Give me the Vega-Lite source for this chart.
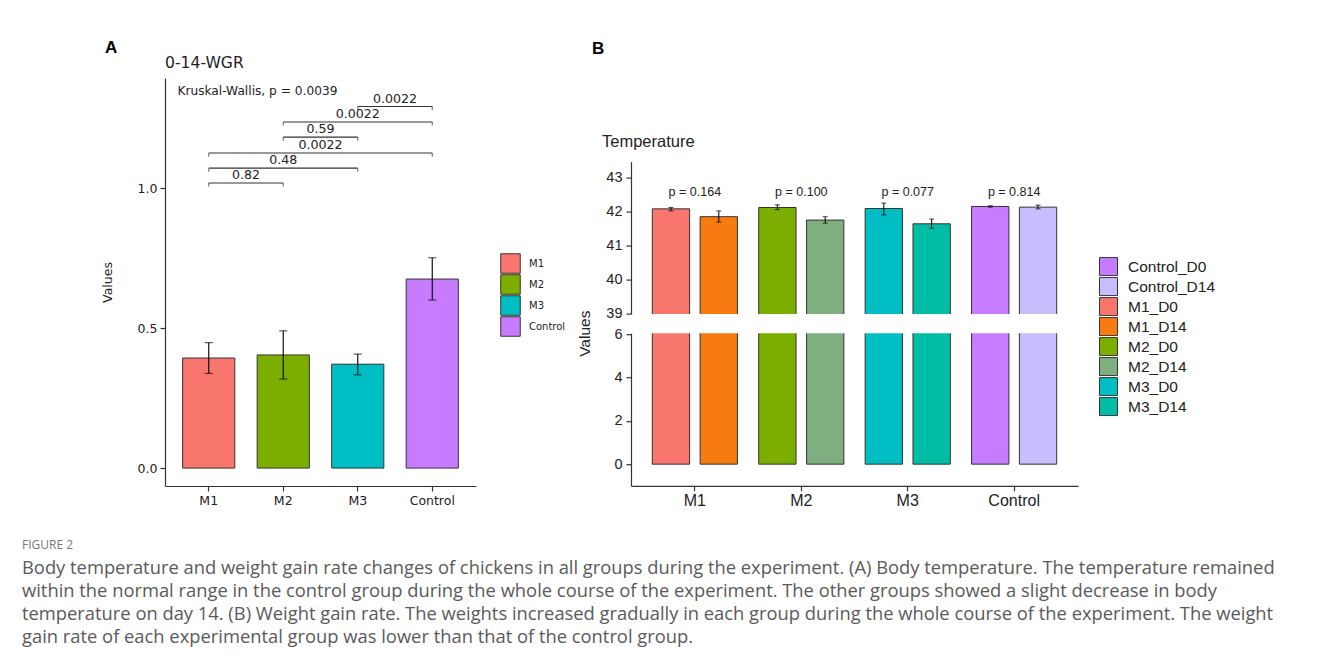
{
  "$schema": "https://vega.github.io/schema/vega-lite/v6.json",
  "background": "white",
  "padding": {"left": 22, "top": 39, "right": 5, "bottom": 5},
  "autosize": {"type": "pad"},
  "config": {
    "view": {"stroke": null},
    "axis": {"domainColor": "#333", "tickColor": "#333", "grid": false, "labelColor": "#222", "titleColor": "#222", "titleFontWeight": "normal", "domainWidth": 1.2, "tickWidth": 1.2, "tickSize": 5, "labelOverlap": false}
  },
  "datasets": {
    "wgr": [
      {"g": "M1", "v": 0.393, "lo": 0.338, "hi": 0.448},
      {"g": "M2", "v": 0.404, "lo": 0.318, "hi": 0.490},
      {"g": "M3", "v": 0.371, "lo": 0.333, "hi": 0.407},
      {"g": "Control", "v": 0.675, "lo": 0.600, "hi": 0.751}
    ],
    "brackets": [
      {"x1": "M1", "x2": "M2", "yb": 1.018, "label": "0.82", "mid": 0.5},
      {"x1": "M1", "x2": "M3", "yb": 1.071, "label": "0.48", "mid": 1.0},
      {"x1": "M1", "x2": "Control", "yb": 1.125, "label": "0.0022", "mid": 1.5},
      {"x1": "M2", "x2": "M3", "yb": 1.182, "label": "0.59", "mid": 1.5},
      {"x1": "M2", "x2": "Control", "yb": 1.236, "label": "0.0022", "mid": 2.0},
      {"x1": "M3", "x2": "Control", "yb": 1.291, "label": "0.0022", "mid": 2.5}
    ],
    "kw": [{"t": "Kruskal-Wallis, p = 0.0039"}],
    "spacer": [{"t": ""}],
    "temp": [
      {"group": "M1", "day": "D0", "series": "M1_D0", "v": 42.09, "lo": 42.03, "hi": 42.13},
      {"group": "M1", "day": "D14", "series": "M1_D14", "v": 41.86, "lo": 41.70, "hi": 42.03},
      {"group": "M2", "day": "D0", "series": "M2_D0", "v": 42.13, "lo": 42.07, "hi": 42.21},
      {"group": "M2", "day": "D14", "series": "M2_D14", "v": 41.76, "lo": 41.67, "hi": 41.86},
      {"group": "M3", "day": "D0", "series": "M3_D0", "v": 42.10, "lo": 41.91, "hi": 42.26},
      {"group": "M3", "day": "D14", "series": "M3_D14", "v": 41.65, "lo": 41.52, "hi": 41.79},
      {"group": "Control", "day": "D0", "series": "Control_D0", "v": 42.16, "lo": 42.14, "hi": 42.18},
      {"group": "Control", "day": "D14", "series": "Control_D14", "v": 42.14, "lo": 42.09, "hi": 42.20}
    ],
    "pv": [
      {"group": "M1", "p": "p = 0.164"},
      {"group": "M2", "p": "p = 0.100"},
      {"group": "M3", "p": "p = 0.077"},
      {"group": "Control", "p": "p = 0.814"}
    ]
  },
  "title": {
    "text": "FIGURE 2",
    "subtitle": [
      "Body temperature and weight gain rate changes of chickens in all groups during the experiment. (A) Body temperature. The temperature remained",
      "within the normal range in the control group during the whole course of the experiment. The other groups showed a slight decrease in body",
      "temperature on day 14. (B) Weight gain rate. The weights increased gradually in each group during the whole course of the experiment. The weight",
      "gain rate of each experimental group was lower than that of the control group."
    ],
    "orient": "bottom",
    "anchor": "start",
    "frame": "bounds",
    "font": "Open Sans",
    "fontSize": 12,
    "fontWeight": "normal",
    "color": "#777777",
    "subtitleFont": "Open Sans",
    "subtitleFontSize": 18.35,
    "subtitleColor": "#5a5a5a",
    "subtitleLineHeight": 23,
    "subtitlePadding": 8,
    "dx": -79,
    "offset": 31
  },
  "spacing": 11,
  "resolve": {"scale": {"color": "independent", "x": "independent", "y": "independent"}, "legend": {"color": "independent"}},
  "hconcat": [
    {
      "title": {"text": "A", "anchor": "start", "frame": "bounds", "font": "Liberation Sans", "fontSize": 17, "fontWeight": "bold", "color": "#000000", "offset": -1.2, "dx": 4},
      "vconcat": [
        {
          "width": 311,
          "height": 408,
          "title": {"text": "0-14-WGR", "anchor": "start", "frame": "group", "font": "DejaVu Sans", "fontSize": 15.6, "fontWeight": "normal", "color": "#222222", "offset": 6.5},
          "resolve": {"scale": {"x": "independent"}},
          "layer": [
            {
              "layer": [
                {
                  "data": {"name": "wgr"},
                  "mark": {"type": "bar", "stroke": "#333333", "strokeWidth": 1},
                  "encoding": {
                    "x": {"field": "g", "type": "nominal", "title": null,
                      "scale": {"domain": ["M1", "M2", "M3", "Control"], "paddingInner": 0.3, "paddingOuter": 0.237},
                      "axis": {"title": null, "labelAngle": 0, "labelFont": "DejaVu Sans", "labelFontSize": 12.5, "labelPadding": 3}},
                    "y": {"field": "v", "type": "quantitative",
                      "scale": {"domain": [-0.064, 1.393], "nice": false, "zero": false},
                      "axis": {"title": "Values", "values": [0, 0.5, 1], "format": ".1f", "labelOverlap": false, "labelFont": "DejaVu Sans", "labelFontSize": 12.5, "labelPadding": 3, "titleFont": "DejaVu Sans", "titleFontSize": 12.5, "titleX": -51, "titleY": 204}},
                    "y2": {"datum": 0},
                    "color": {"field": "g", "type": "nominal",
                      "scale": {"domain": ["M1", "M2", "M3", "Control"], "range": ["#F8766D", "#7CAE00", "#00BFC4", "#C77CFF"]},
                      "legend": {"title": null, "orient": "none", "legendX": 335, "legendY": 175, "padding": 0, "symbolType": "square", "symbolSize": 380, "symbolStrokeColor": "#333333", "symbolStrokeWidth": 1, "symbolOpacity": 1, "labelFont": "DejaVu Sans", "labelFontSize": 10, "labelColor": "#222222", "labelOffset": 8, "rowPadding": 0, "clipHeight": 21}}
                  }
                },
                {
                  "data": {"name": "wgr"},
                  "mark": {"type": "rule", "color": "#111111", "strokeWidth": 1.2},
                  "encoding": {
                    "x": {"field": "g", "type": "nominal", "title": null},
                    "y": {"field": "lo", "type": "quantitative"},
                    "y2": {"field": "hi"}
                  }
                },
                {
                  "data": {"name": "wgr"},
                  "mark": {"type": "tick", "orient": "horizontal", "color": "#111111", "size": 8, "thickness": 1.2},
                  "encoding": {
                    "x": {"field": "g", "type": "nominal", "title": null},
                    "y": {"field": "lo", "type": "quantitative"}
                  }
                },
                {
                  "data": {"name": "wgr"},
                  "mark": {"type": "tick", "orient": "horizontal", "color": "#111111", "size": 8, "thickness": 1.2},
                  "encoding": {
                    "x": {"field": "g", "type": "nominal", "title": null},
                    "y": {"field": "hi", "type": "quantitative"}
                  }
                },
                {
                  "data": {"name": "brackets"},
                  "mark": {"type": "rule", "color": "#333333", "strokeWidth": 1.1},
                  "encoding": {
                    "x": {"field": "x1", "type": "nominal", "title": null, "bandPosition": 0.5},
                    "x2": {"field": "x2", "bandPosition": 0.5},
                    "y": {"field": "yb", "type": "quantitative"}
                  }
                },
                {
                  "data": {"name": "brackets"},
                  "mark": {"type": "tick", "orient": "vertical", "color": "#333333", "size": 3.6, "thickness": 1.1, "yOffset": 1.8},
                  "encoding": {
                    "x": {"field": "x1", "type": "nominal", "title": null},
                    "y": {"field": "yb", "type": "quantitative"}
                  }
                },
                {
                  "data": {"name": "brackets"},
                  "mark": {"type": "tick", "orient": "vertical", "color": "#333333", "size": 3.6, "thickness": 1.1, "yOffset": 1.8},
                  "encoding": {
                    "x": {"field": "x2", "type": "nominal", "title": null},
                    "y": {"field": "yb", "type": "quantitative"}
                  }
                }
              ]
            },
            {
              "layer": [
                {
                  "data": {"name": "brackets"},
                  "mark": {"type": "text", "font": "DejaVu Sans", "fontSize": 12.6, "color": "#222222", "baseline": "bottom", "dy": -1},
                  "encoding": {
                    "x": {"field": "mid", "type": "quantitative", "scale": {"domain": [-0.587, 3.587], "nice": false, "zero": false}, "axis": null},
                    "y": {"field": "yb", "type": "quantitative"},
                    "text": {"field": "label"}
                  }
                },
                {
                  "data": {"name": "kw"},
                  "mark": {"type": "text", "font": "DejaVu Sans", "fontSize": 12.2, "color": "#222222", "align": "left", "baseline": "middle"},
                  "encoding": {
                    "x": {"datum": -0.42, "type": "quantitative"},
                    "y": {"datum": 1.345, "type": "quantitative"},
                    "text": {"field": "t"}
                  }
                }
              ]
            }
          ]
        }
      ]
    },
    {
      "title": {"text": "B", "anchor": "start", "frame": "bounds", "font": "Liberation Sans", "fontSize": 17, "fontWeight": "bold", "color": "#000000", "offset": 20.3, "dx": 15},
      "bounds": "flush",
      "spacing": 18.6,
      "resolve": {"scale": {"y": "independent", "color": "independent"}, "legend": {"color": "independent"}},
      "vconcat": [
        {
          "width": 447,
          "height": 64.8,
          "data": {"name": "spacer"},
          "mark": {"type": "text"},
          "encoding": {"text": {"field": "t"}}
        },
        {
          "width": 447,
          "height": 152.3,
          "title": {"text": "Temperature", "anchor": "start", "frame": "group", "font": "Liberation Sans", "fontSize": 16.5, "fontWeight": "normal", "color": "#222222", "dx": -29, "offset": 11},
          "layer": [
            {
              "data": {"name": "temp"},
              "mark": {"type": "bar", "stroke": "#333333", "strokeWidth": 1, "clip": true},
              "encoding": {
                "x": {"field": "group", "type": "nominal", "title": null,
                  "scale": {"domain": ["M1", "M2", "M3", "Control"], "paddingInner": 0.2, "paddingOuter": 0.2},
                  "axis": null},
                "xOffset": {"field": "day", "type": "nominal", "scale": {"domain": ["D0", "D14"], "paddingInner": 0.22, "paddingOuter": 0}},
                "y": {"field": "v", "type": "quantitative",
                  "scale": {"domain": [39, 43.48], "nice": false, "zero": false},
                  "axis": {"title": null, "values": [39, 40, 41, 42, 43], "tickCount": 5, "labelOverlap": false, "labelFont": "Liberation Sans", "labelFontSize": 14.5, "labelPadding": 4}},
                "y2": {"datum": 0},
                "color": {"field": "series", "type": "nominal",
                  "scale": {"domain": ["Control_D0", "Control_D14", "M1_D0", "M1_D14", "M2_D0", "M2_D14", "M3_D0", "M3_D14"],
                    "range": ["#C77CFF", "#C8BEFF", "#F8766D", "#F77B10", "#7CAE00", "#7FAE80", "#00BFC4", "#00BEA5"]},
                  "legend": {"title": null, "orient": "none", "legendX": 468, "legendY": 95, "padding": 0, "symbolType": "square", "symbolSize": 324, "symbolStrokeColor": "#333333", "symbolStrokeWidth": 1, "symbolOpacity": 1, "labelFont": "Liberation Sans", "labelFontSize": 15.5, "labelColor": "#222222", "labelOffset": 10, "rowPadding": 0, "clipHeight": 20}}
              }
            },
            {
              "data": {"name": "temp"},
              "mark": {"type": "rule", "color": "#111111", "strokeWidth": 1.1},
              "encoding": {
                "x": {"field": "group", "type": "nominal", "title": null},
                "xOffset": {"field": "day", "type": "nominal"},
                "y": {"field": "lo", "type": "quantitative"},
                "y2": {"field": "hi"}
              }
            },
            {
              "data": {"name": "temp"},
              "mark": {"type": "tick", "orient": "horizontal", "color": "#111111", "size": 5, "thickness": 1.1},
              "encoding": {
                "x": {"field": "group", "type": "nominal", "title": null},
                "xOffset": {"field": "day", "type": "nominal"},
                "y": {"field": "lo", "type": "quantitative"}
              }
            },
            {
              "data": {"name": "temp"},
              "mark": {"type": "tick", "orient": "horizontal", "color": "#111111", "size": 5, "thickness": 1.1},
              "encoding": {
                "x": {"field": "group", "type": "nominal", "title": null},
                "xOffset": {"field": "day", "type": "nominal"},
                "y": {"field": "hi", "type": "quantitative"}
              }
            },
            {
              "data": {"name": "pv"},
              "mark": {"type": "text", "font": "Liberation Sans", "fontSize": 12.5, "color": "#222222", "baseline": "middle"},
              "encoding": {
                "x": {"field": "group", "type": "nominal", "title": null},
                "y": {"datum": 42.58, "type": "quantitative"},
                "text": {"field": "p"}
              }
            }
          ]
        },
        {
          "width": 447,
          "height": 152.6,
          "layer": [
            {
              "data": {"name": "temp"},
              "mark": {"type": "bar", "stroke": "#333333", "strokeWidth": 1, "clip": true},
              "encoding": {
                "x": {"field": "group", "type": "nominal", "title": null,
                  "scale": {"domain": ["M1", "M2", "M3", "Control"], "paddingInner": 0.2, "paddingOuter": 0.2},
                  "axis": {"title": null, "labelAngle": 0, "labelFont": "Liberation Sans", "labelFontSize": 16, "labelPadding": 2}},
                "xOffset": {"field": "day", "type": "nominal", "scale": {"domain": ["D0", "D14"], "paddingInner": 0.22, "paddingOuter": 0}},
                "y": {"field": "v", "type": "quantitative",
                  "scale": {"domain": [-1, 6.05], "nice": false, "zero": false},
                  "axis": {"title": "Values", "values": [0, 2, 4, 6], "labelOverlap": false, "labelFont": "Liberation Sans", "labelFontSize": 14.5, "labelPadding": 4, "titleFont": "Liberation Sans", "titleFontSize": 15.5, "titleX": -39, "titleY": 0}},
                "y2": {"datum": 0},
                "color": {"field": "series", "type": "nominal",
                  "scale": {"domain": ["Control_D0", "Control_D14", "M1_D0", "M1_D14", "M2_D0", "M2_D14", "M3_D0", "M3_D14"],
                    "range": ["#C77CFF", "#C8BEFF", "#F8766D", "#F77B10", "#7CAE00", "#7FAE80", "#00BFC4", "#00BEA5"]},
                  "legend": null}
              }
            }
          ]
        }
      ]
    }
  ]
}
